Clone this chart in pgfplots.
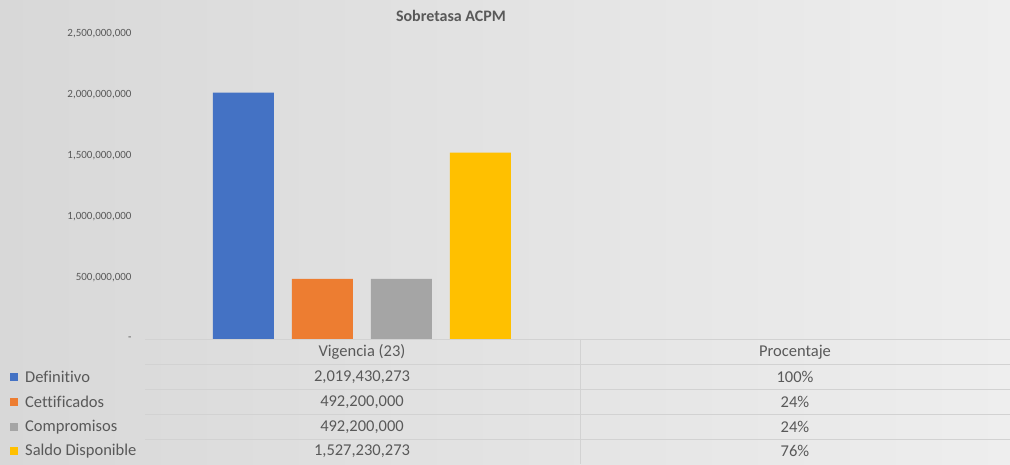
\documentclass[border=0pt]{standalone}
\usepackage{pgfplots}
\pgfplotsset{compat=1.18}
\usepackage{fontspec}
\setmainfont{Carlito}[Ligatures={NoCommon}]
\definecolor{bgL}{HTML}{D8D8D8}
\definecolor{bgR}{HTML}{EEEEEE}
\definecolor{txt}{HTML}{595959}
\definecolor{grid}{HTML}{D2D2D2}
\definecolor{cBlue}{HTML}{4472C4}
\definecolor{cOrange}{HTML}{ED7D31}
\definecolor{cGray}{HTML}{A5A5A5}
\definecolor{cGold}{HTML}{FFC000}
\begin{document}
\begin{tikzpicture}[x=1pt,y=1pt]
\useasboundingbox (0,0) rectangle (1010,464);
\shade[left color=bgL, right color=bgR] (0,0) rectangle (1010,464);
% title
\node[font=\fontsize{16}{18}\selectfont\bfseries, text=txt] at (451,{464-16}) {Sobretasa ACPM};
\begin{axis}[
  at={(145pt,125pt)}, anchor=south west,
  scale only axis, width=867pt, height=305pt,
  xmin=-0.5, xmax=1.5, ymin=0, ymax=2500000000,
  ybar=18pt, bar width=61pt,
  axis line style={draw=none},
  major tick length=0pt,
  xtick=\empty,
  scaled y ticks=false,
  ytick={0,500000000,1000000000,1500000000,2000000000,2500000000},
  yticklabels={{-\hspace{6pt}},{500,000,000},{1,000,000,000},{1,500,000,000},{2,000,000,000},{2,500,000,000}},
  yticklabel style={font=\fontsize{11}{13}\selectfont, text=txt, anchor=east, xshift=-10pt},
  clip=false,
]
\addplot[draw=none, fill=cBlue] coordinates {(0,2019430273) (1,1.00)};
\addplot[draw=none, fill=cOrange] coordinates {(0,492200000) (1,0.24)};
\addplot[draw=none, fill=cGray] coordinates {(0,492200000) (1,0.24)};
\addplot[draw=none, fill=cGold] coordinates {(0,1527230273) (1,0.76)};
\end{axis}
% data table grid
\foreach \py in {339,364,389,414,439} {
  \draw[grid, line width=0.8pt] (145,{464-\py}) -- (1010,{464-\py});
}
\draw[grid, line width=0.8pt] (580,{464-339}) -- (580,0);
\tikzset{tt/.style={font=\fontsize{16.5}{18}\selectfont, text=txt, inner sep=0pt}}
\node[tt] at (362,{464-352}) {Vigencia (23)};
\node[tt] at (795,{464-352}) {Procentaje};
\node[tt] at (362,{464-377}) {2,019,430,273};
\node[tt] at (362,{464-402}) {492,200,000};
\node[tt] at (362,{464-427}) {492,200,000};
\node[tt] at (362,{464-451}) {1,527,230,273};
\node[tt] at (795,{464-377}) {100\%};
\node[tt] at (795,{464-402}) {24\%};
\node[tt] at (795,{464-427}) {24\%};
\node[tt] at (795,{464-451}) {76\%};
% legend keys
\fill[cBlue]   (10,{464-381}) rectangle (18,{464-373});
\fill[cOrange] (10,{464-406}) rectangle (18,{464-398});
\fill[cGray]   (10,{464-431}) rectangle (18,{464-423});
\fill[cGold]   (10,{464-455}) rectangle (18,{464-447});
\node[tt, anchor=west] at (25,{464-377}) {Definitivo};
\node[tt, anchor=west] at (25,{464-402}) {Cettificados};
\node[tt, anchor=west] at (25,{464-427}) {Compromisos};
\node[tt, anchor=west] at (25,{464-451}) {Saldo Disponible};
\end{tikzpicture}
\end{document}
